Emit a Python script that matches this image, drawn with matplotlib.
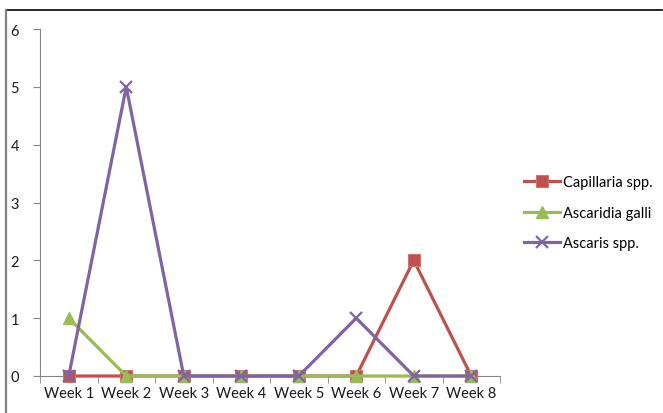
import matplotlib.pyplot as plt
from matplotlib.lines import Line2D
import numpy as np

weeks = ["Week 1", "Week 2", "Week 3", "Week 4", "Week 5", "Week 6", "Week 7", "Week 8"]
capillaria = [0, 0, 0, 0, 0, 0, 2, 0]
ascaridia = [1, 0, 0, 0, 0, 0, 0, 0]
ascaris = [0, 5, 0, 0, 0, 1, 0, 0]

plt.rcParams['font.family'] = ['Lato', 'DejaVu Sans']

fig = plt.figure(figsize=(6.63, 4.14), dpi=100)
ax = fig.add_axes([40 / 663, 1 - 377 / 414, 460 / 663, 347 / 414])

x = np.arange(len(weeks))
ax.plot(x, capillaria, color='#C0504D', lw=2.3, marker='s', ms=8.5,
        mec='#D07370', mew=0.8, label='Capillaria spp.', clip_on=False, zorder=3)
ax.plot(x, ascaridia, color='#9BBB59', lw=2.3, marker='^', ms=9,
        mec='#9BBB59', label='Ascaridia galli', clip_on=False, zorder=4)
ax.plot(x, ascaris, color='#8064A2', lw=2.3, marker='x', ms=9, mew=1.6,
        label='Ascaris spp.', clip_on=False, zorder=5)

ax.set_xlim(-0.5, len(weeks) - 0.5)
ax.set_ylim(0, 6)
ax.set_xticks(x)
ax.set_xticklabels(weeks)
ax.set_xticks(np.arange(len(weeks) + 1) - 0.5, minor=True)
ax.tick_params(axis='x', which='major', length=0, pad=7, labelsize=10.5)
ax.tick_params(axis='x', which='minor', length=5, direction='out', color='#868686')
ax.set_yticks(range(7))
ax.tick_params(axis='y', length=5, direction='out', color='#868686', pad=10,
               labelsize=10.5)
for s in ['top', 'right']:
    ax.spines[s].set_visible(False)
for s in ['left', 'bottom']:
    ax.spines[s].set_color('#868686')
    ax.spines[s].set_linewidth(0.8)
for lab in ax.get_xticklabels() + ax.get_yticklabels():
    lab.set_color('#1a1a1a')

fig.legend(loc='upper left', bbox_to_anchor=(518 / 663, 1 - 170 / 414),
           frameon=False, fontsize=10.5, handlelength=2.5, handletextpad=0.2,
           labelspacing=1.15, borderaxespad=0)

# outer chart frame
fig.add_artist(Line2D([6 / 663, 662 / 663], [1 - 11 / 414, 1 - 11 / 414],
                      color='black', lw=1.2, transform=fig.transFigure))
fig.add_artist(Line2D([6 / 663, 6 / 663], [0, 1 - 11 / 414],
                      color='#808080', lw=1.6, transform=fig.transFigure))

fig.savefig('out.png', dpi=100)
